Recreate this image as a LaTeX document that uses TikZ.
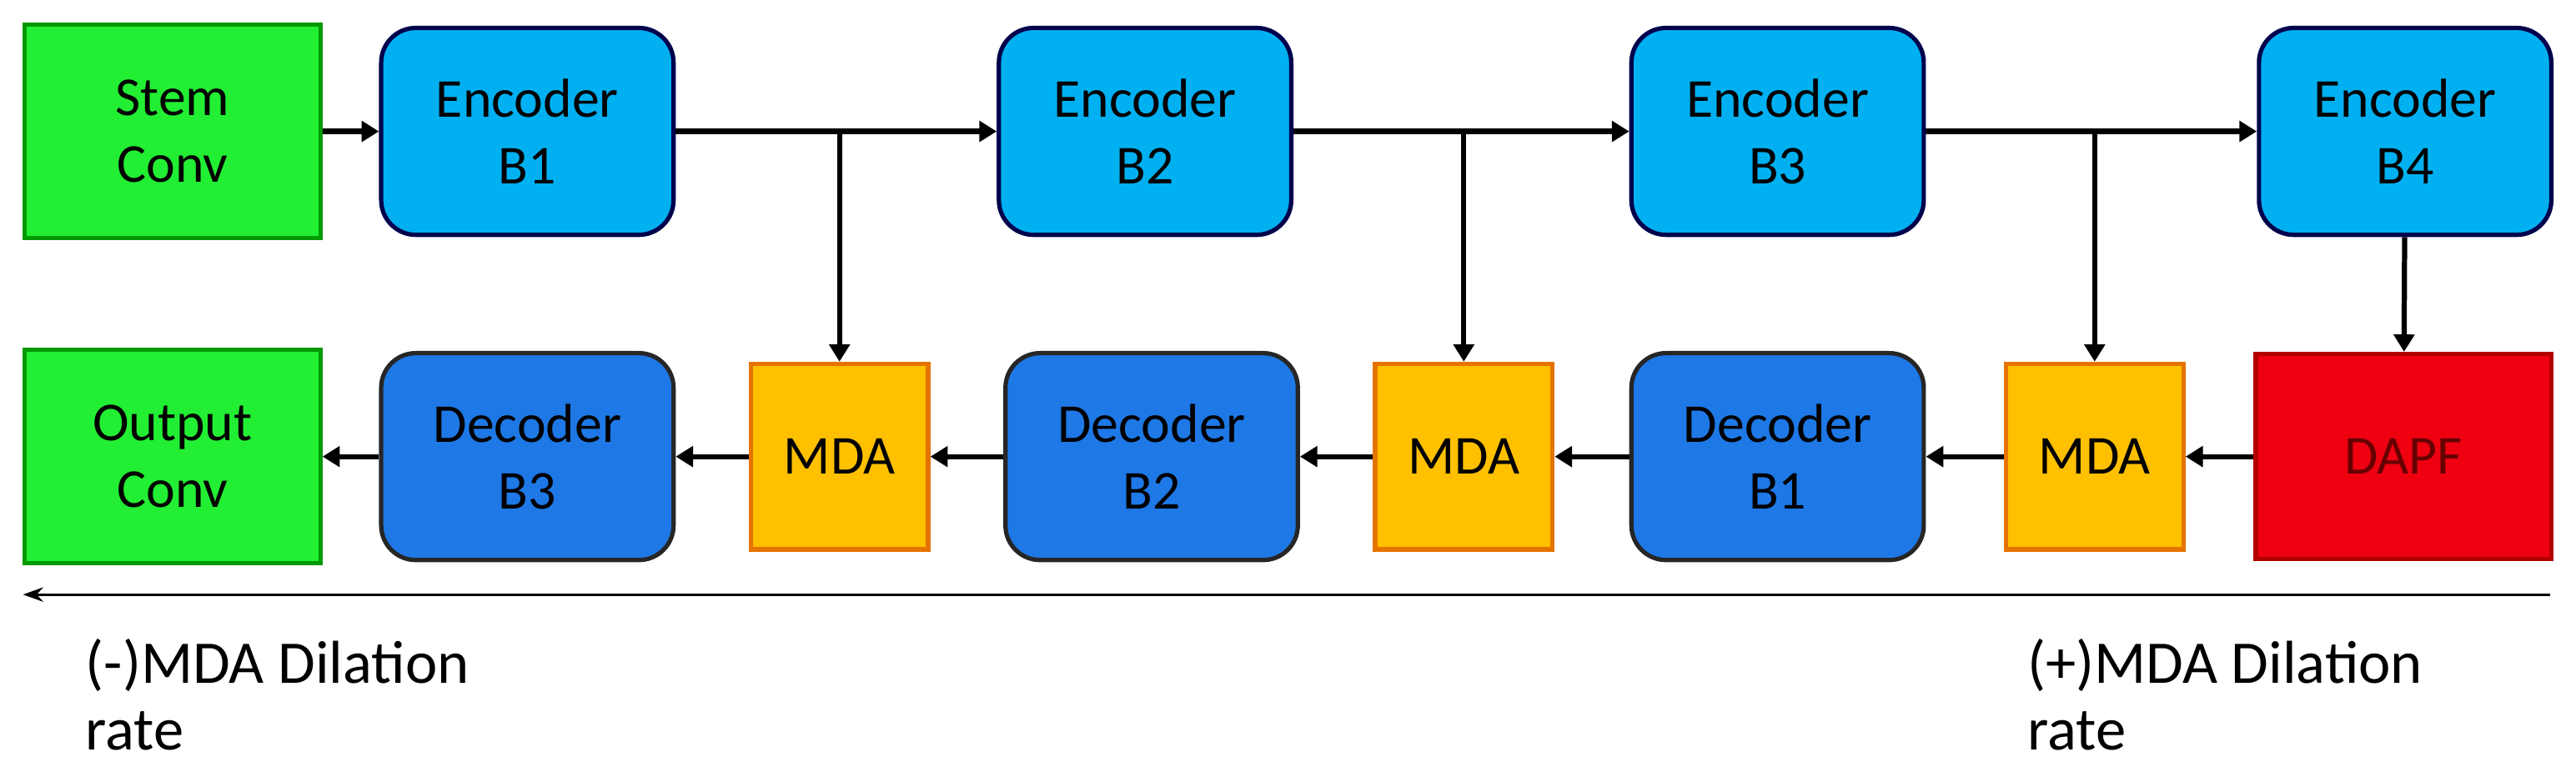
\documentclass[tikz,border=0pt]{standalone}
\usepackage{fontspec}
\setmainfont{Carlito}
\usetikzlibrary{arrows.meta}
\definecolor{stemgreen}{HTML}{22EE33}
\definecolor{encblue}{HTML}{00B0F0}
\definecolor{decblue}{HTML}{1E78E6}
\definecolor{mdaorange}{HTML}{FFC000}
\definecolor{dapfred}{HTML}{EE0011}
\begin{document}
\begin{tikzpicture}[
  x=0.02cm, y=-0.02cm,
  every node/.style = {font=\fontsize{19}{23}\selectfont, align=center},
  conv/.style = {draw=green!60!black, fill=stemgreen, line width=1.5pt, minimum width=3.6cm, minimum height=2.6cm},
  enc/.style = {draw=black!70!blue, fill=encblue, rounded corners=12pt, line width=1.5pt, minimum width=3.56cm, minimum height=2.52cm},
  dec/.style = {draw=black!85, fill=decblue, rounded corners=12pt, line width=1.5pt, minimum width=3.56cm, minimum height=2.52cm},
  mda/.style = {draw=orange!90!black, fill=mdaorange, line width=1.5pt, minimum width=2.16cm, minimum height=2.26cm},
  dapf/.style = {draw=red!70!black, fill=dapfred, line width=1.5pt, minimum width=3.6cm, minimum height=2.5cm},
  link/.style = {-{Triangle[length=6pt,width=7pt]}, line width=1.8pt},
  rate/.style = {anchor=north west, align=left, font=\fontsize{21}{23}\selectfont}
]
  \useasboundingbox (0,0) rectangle (1568,473);
  % top row
  \node[conv] (stem) at (105,80) {Stem\\Conv};
  \node[enc] (enc1) at (321,80) {Encoder\\B1};
  \node[enc] (enc2) at (697,80) {Encoder\\B2};
  \node[enc] (enc3) at (1082,80) {Encoder\\B3};
  \node[enc] (enc4) at (1464,80) {Encoder\\B4};
  % bottom row
  \node[conv] (out) at (105,278) {Output\\Conv};
  \node[dec] (dec3) at (321,278) {Decoder\\B3};
  \node[mda] (mda1) at (511,278) {MDA};
  \node[dec] (dec2) at (701,278) {Decoder\\B2};
  \node[mda] (mda2) at (891,278) {MDA};
  \node[dec] (dec1) at (1082,278) {Decoder\\B1};
  \node[mda] (mda3) at (1275,278) {MDA};
  \node[dapf] (dapf) at (1463,278) {\textcolor{red!40!black}{DAPF}};
  % encoder path
  \draw[link] (stem) -- (enc1);
  \draw[link] (enc1) -- (enc2);
  \draw[link] (enc2) -- (enc3);
  \draw[link] (enc3) -- (enc4);
  \draw[link] (enc4) -- (dapf);
  % skips
  \draw[link] (enc1.east -| mda1.north) -- (mda1);
  \draw[link] (enc2.east -| mda2.north) -- (mda2);
  \draw[link] (enc3.east -| mda3.north) -- (mda3);
  % decoder path
  \draw[link] (dapf) -- (mda3);
  \draw[link] (mda3) -- (dec1);
  \draw[link] (dec1) -- (mda2);
  \draw[link] (mda2) -- (dec2);
  \draw[link] (dec2) -- (mda1);
  \draw[link] (mda1) -- (dec3);
  \draw[link] (dec3) -- (out);
  % dilation axis
  \coordinate (axr) at (1552,362);
  \coordinate (axl) at (14,362);
  \draw[-{Stealth[length=7pt,width=5pt]}, line width=0.8pt] (axr) -- (axl);
  \node[rate] (lowrate) at (46,383) {(-)MDA Dilation\\rate};
  \node[rate] (highrate) at (1228,383) {(+)MDA Dilation\\rate};
\end{tikzpicture}
\end{document}
